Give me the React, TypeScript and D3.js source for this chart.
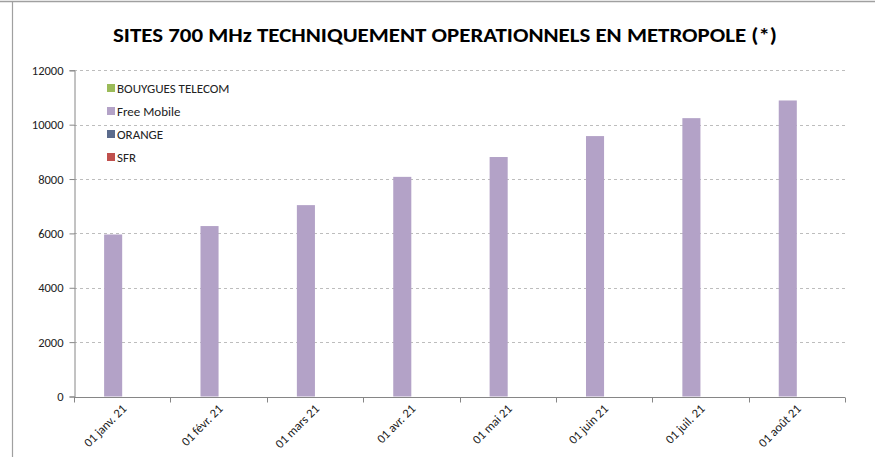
import React, { useEffect, useRef } from 'react';
import * as d3 from 'd3';

const months = ['01 janv. 21', '01 févr. 21', '01 mars 21', '01 avr. 21', '01 mai 21', '01 juin 21', '01 juil. 21', '01 août 21'];
const seriesNames = ['BOUYGUES TELECOM', 'Free Mobile', 'ORANGE', 'SFR'];
const seriesColors = ['#9BBB59', '#B3A2C7', '#5B6B8C', '#C0504D'];
const bouygues = [0, 0, 0, 0, 0, 0, 0, 0];
const freeMobile = [5960, 6270, 7040, 8080, 8810, 9580, 10240, 10890];
const orange = [0, 0, 0, 0, 0, 0, 0, 0];
const sfr = [0, 0, 0, 0, 0, 0, 0, 0];
const yTicks = [0, 2000, 4000, 6000, 8000, 10000, 12000];

const W = 875;
const H = 457;
const FONT = "Calibri, Carlito, 'Open Sans', 'Noto Sans', sans-serif";

const App = () => {
    const svgRef = useRef(null);

    useEffect(() => {
        if (!svgRef.current) return;
        const svg = d3.select(svgRef.current);
        svg.selectAll('*').remove();

        const left = 74, right = 845, top = 70.3, bottom = 396.5;
        const allSeries = [bouygues, freeMobile, orange, sfr];

        // frame
        svg.append('line').attr('x1', 0).attr('x2', W).attr('y1', 1.5).attr('y2', 1.5)
            .attr('stroke', '#a0a0a0').attr('stroke-width', 1.5);
        svg.append('line').attr('x1', 12.5).attr('x2', 12.5).attr('y1', 1).attr('y2', H)
            .attr('stroke', '#a0a0a0').attr('stroke-width', 1.2);

        // title
        svg.append('text')
            .attr('x', 445).attr('y', 42)
            .attr('text-anchor', 'middle')
            .attr('textLength', 664).attr('lengthAdjust', 'spacingAndGlyphs')
            .style('font-family', FONT).style('font-size', '20px').style('font-weight', 'bold')
            .style('fill', '#000')
            .text('SITES 700 MHz TECHNIQUEMENT OPERATIONNELS EN METROPOLE (*)');

        const x = d3.scaleBand().domain(months).range([left, right]).paddingInner(0).paddingOuter(0);
        const y = d3.scaleLinear().domain([0, 12000]).range([bottom, top]);

        // gridlines
        svg.append('g').selectAll('line').data(yTicks.filter(t => t > 0)).enter().append('line')
            .attr('x1', left).attr('x2', right)
            .attr('y1', d => Math.round(y(d)) + 0.5).attr('y2', d => Math.round(y(d)) + 0.5)
            .attr('stroke', '#bdbdbd').attr('stroke-dasharray', '3,3');

        // bars: clustered, 4 series
        const groupW = x.bandwidth() * 0.75;
        const inner = d3.scaleBand().domain(seriesNames).range([0, groupW]);
        allSeries.forEach((vals, si) => {
            svg.append('g').selectAll('rect').data(vals).enter().append('rect')
                .attr('x', (d, i) => x(months[i]) + (x.bandwidth() - groupW) / 2 + inner(seriesNames[si]))
                .attr('y', d => y(d))
                .attr('width', inner.bandwidth())
                .attr('height', d => y(0) - y(d))
                .attr('fill', seriesColors[si]);
        });

        // y axis
        const yAxis = svg.append('g').attr('transform', `translate(${left + 0.5},0)`)
            .call(d3.axisLeft(y).tickValues(yTicks).tickSize(5).tickPadding(6).tickFormat(d3.format('d')));
        yAxis.select('.domain').attr('stroke', '#868686');
        yAxis.selectAll('.tick line').attr('stroke', '#868686');
        yAxis.selectAll('text').style('font-family', FONT).style('font-size', '12.5px').style('fill', '#222');

        // x axis
        const xAxis = svg.append('g').attr('transform', `translate(0,${Math.round(bottom) + 0.5})`);
        xAxis.append('line').attr('x1', left).attr('x2', right).attr('stroke', '#868686');
        const bounds = months.map(m => x(m)).concat([right]);
        xAxis.selectAll('line.tk').data(bounds).enter().append('line').attr('class', 'tk')
            .attr('x1', d => Math.round(d) + 0.5).attr('x2', d => Math.round(d) + 0.5)
            .attr('y1', 0).attr('y2', 5).attr('stroke', '#868686');
        xAxis.selectAll('text').data(months).enter().append('text')
            .attr('transform', d => `translate(${x(d) + x.bandwidth() / 2 + 5},12) rotate(-45)`)
            .attr('text-anchor', 'end')
            .style('font-family', FONT).style('font-size', '12.5px').style('fill', '#222')
            .text(d => d);

        // legend
        const legend = svg.append('g').attr('transform', 'translate(107,88)');
        seriesNames.forEach((name, i) => {
            const row = legend.append('g').attr('transform', `translate(0,${i * 23})`);
            row.append('rect').attr('x', 0).attr('y', -4).attr('width', 8).attr('height', 8)
                .attr('fill', seriesColors[i]);
            row.append('text').attr('x', 10).attr('y', 4.5)
                .style('font-family', FONT).style('font-size', '13px').style('fill', '#222')
                .text(name);
        });
    }, []);

    return (
        <svg ref={svgRef} width={W} height={H}
            style={{ position: 'absolute', left: 0, top: 0, background: '#fff' }}></svg>
    );
};

export default App;
